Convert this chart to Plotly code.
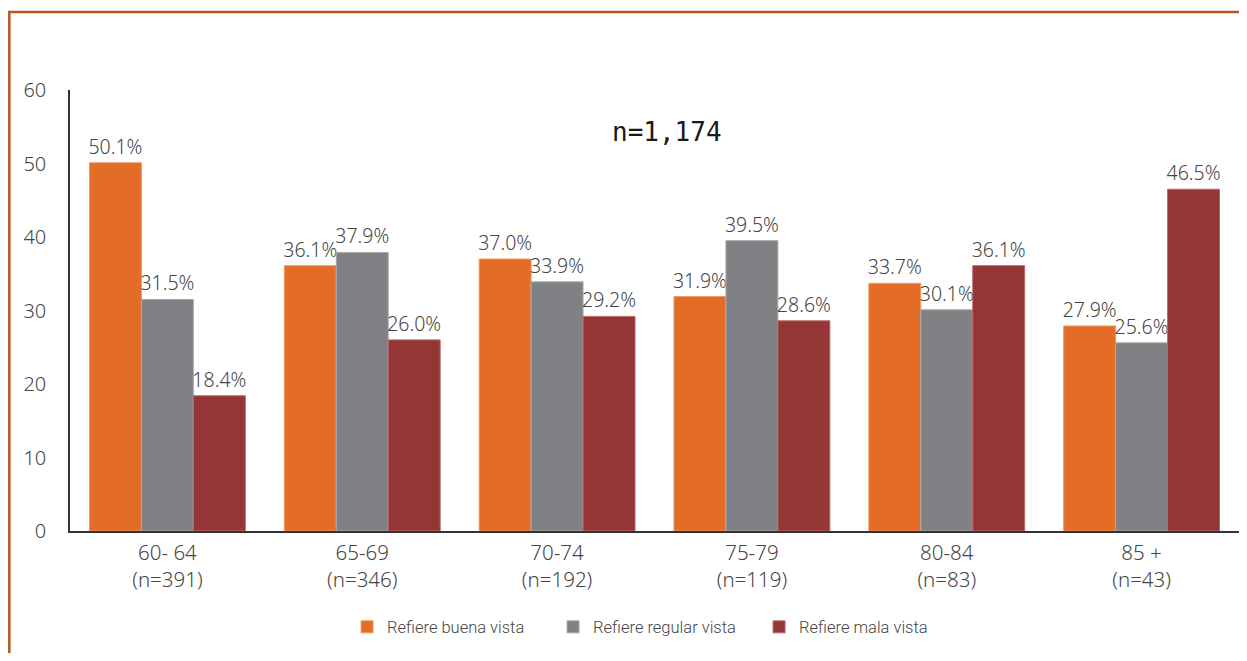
import plotly.graph_objects as go

categories = ["60- 64<br>(n=391)", "65-69<br>(n=346)", "70-74<br>(n=192)",
              "75-79<br>(n=119)", "80-84<br>(n=83)", "85 +<br>(n=43)"]
buena = [50.1, 36.1, 37.0, 31.9, 33.7, 27.9]
regular = [31.5, 37.9, 33.9, 39.5, 30.1, 25.6]
mala = [18.4, 26.0, 29.2, 28.6, 36.1, 46.5]
series_names = ["Refiere buena vista", "Refiere regular vista", "Refiere mala vista"]
colors = ["#E36D26", "#808184", "#943536"]
edge_colors = ["#F09A66", "#A8A9AB", "#B86A6A"]

FONT = "Noto Sans"
TXT = "#454545"
fig = go.Figure()
for name, vals, c, ec in zip(series_names, [buena, regular, mala], colors, edge_colors):
    fig.add_trace(go.Bar(
        x=categories, y=vals, name=name,
        marker=dict(color=c, line=dict(color=ec, width=1)),
        text=[f"{v:.1f}%" for v in vals], textposition="outside",
        textfont=dict(family=FONT, size=19.5, color=TXT, weight=300),
        constraintext="none",
        cliponaxis=False,
    ))

# page body has an 8px margin, so the figure is sized to fit inside it
fig.update_layout(
    width=1231, height=645,
    paper_bgcolor="white", plot_bgcolor="white",
    margin=dict(l=62, r=0, t=82, b=122),
    barmode="group", bargap=0.2, bargroupgap=0,
    font=dict(family=FONT, color=TXT, size=18),
    showlegend=True,
    legend=dict(orientation="h", x=0.237, xanchor="left", y=-0.218, yanchor="middle",
                font=dict(family="Roboto", size=16.5, color=TXT, weight=300),
                itemwidth=30, entrywidth=161, traceorder="normal"),
    xaxis=dict(showline=True, linecolor="#333333", linewidth=1.5, ticks="",
               tickfont=dict(family=FONT, size=20.5, color=TXT, weight=300),
               showgrid=False, ticklabelstandoff=3),
    yaxis=dict(range=[0, 60], dtick=10, showline=True, linecolor="#333333", linewidth=1.5,
               ticks="", showgrid=False, zeroline=False,
               tickfont=dict(family=FONT, size=20, color=TXT, weight=300),
               ticklabelstandoff=18),
)
fig.add_annotation(text="n=1,174", xref="paper", yref="paper", x=0.511, y=0.943,
                   showarrow=False,
                   font=dict(family="DejaVu Sans Mono", size=26, color="#1a1a1a"))
fig.add_shape(type="rect", xref="paper", yref="paper",
              x0=-0.0519, x1=1.2, y0=-0.6, y1=1.177,
              line=dict(color="#B5581C", width=2.5), layer="below")
fig.write_html("out.html")
